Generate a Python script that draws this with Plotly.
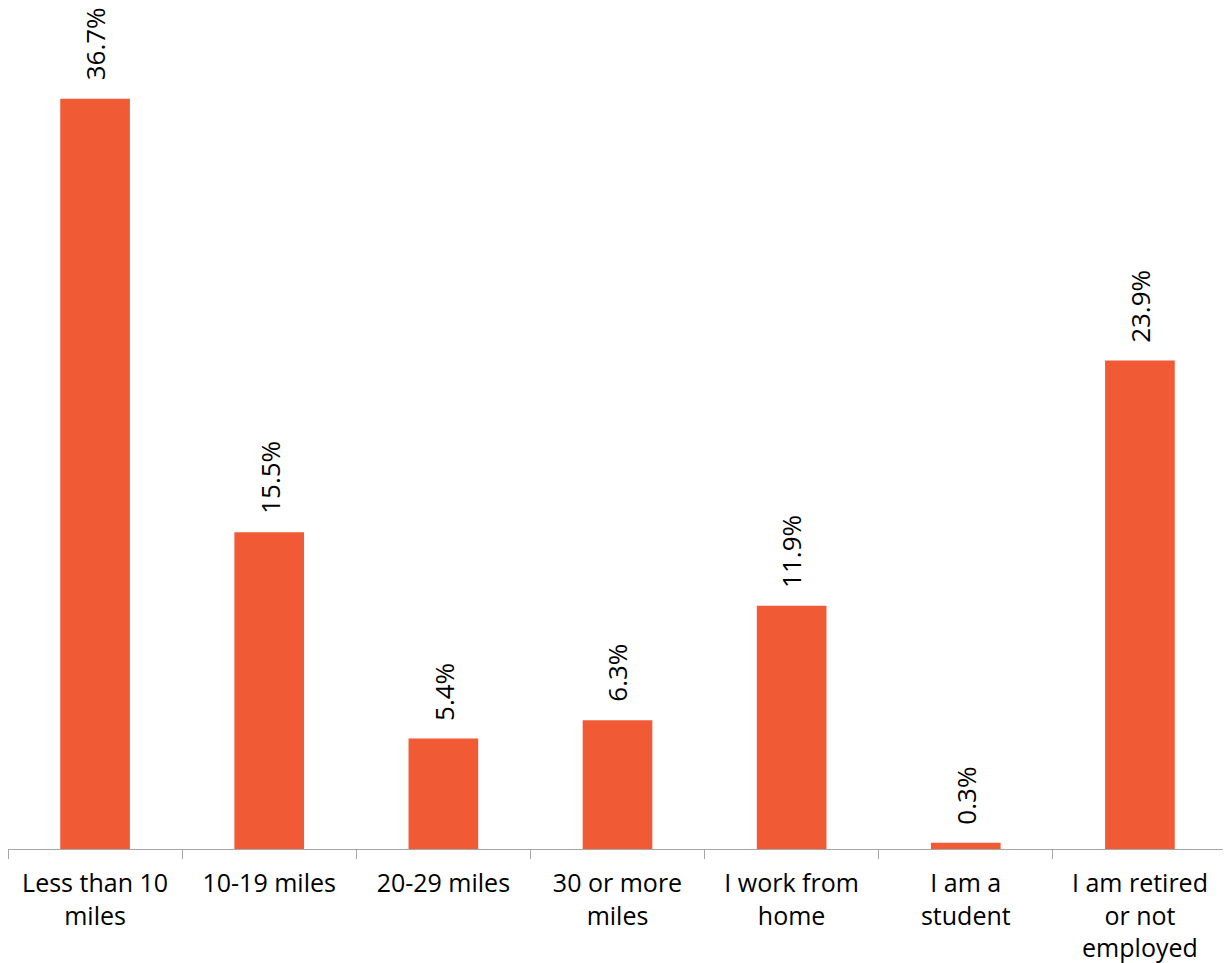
import plotly.graph_objects as go

categories = ["Less than 10<br>miles", "10-19 miles", "20-29 miles", "30 or more<br>miles",
              "I work from<br>home", "I am a<br>student", "I am retired<br>or not<br>employed"]
values = [36.7, 15.5, 5.4, 6.3, 11.9, 0.3, 23.9]
labels = [f"{v:.1f}%" for v in values]

FONT = "Open Sans"
BAR = "#F05A35"

fig = go.Figure(go.Bar(x=categories, y=values, marker_color=BAR, width=0.4,
                       marker_line_width=0, hoverinfo="skip"))

for c, v, t in zip(categories, values, labels):
    fig.add_annotation(x=c, y=v, text=t, textangle=-90, showarrow=False,
                       xanchor="center", yanchor="bottom", yshift=16,
                       font=dict(family=FONT, size=26, color="#000000"))

# the page body adds an 8px offset, so the figure is 8px smaller than the window
fig.update_layout(
    width=1223, height=955,
    margin=dict(l=0, r=4, t=0, b=114, autoexpand=False),
    plot_bgcolor="white", paper_bgcolor="white",
    showlegend=False,
    bargap=0.6,
)
fig.update_xaxes(type="category", range=[-0.5, 6.5], tickson="boundaries",
                 ticks="outside", ticklen=9, tickcolor="#A6A6A6", tickwidth=1,
                 showline=True, linecolor="#A6A6A6", linewidth=1, automargin=False,
                 ticklabelstandoff=12,
                 showgrid=False, tickfont=dict(family=FONT, size=25, color="#000000"))
fig.update_yaxes(range=[0, 41.14], visible=False, showgrid=False, zeroline=False,
                 automargin=False)

fig.write_html("out.html")
